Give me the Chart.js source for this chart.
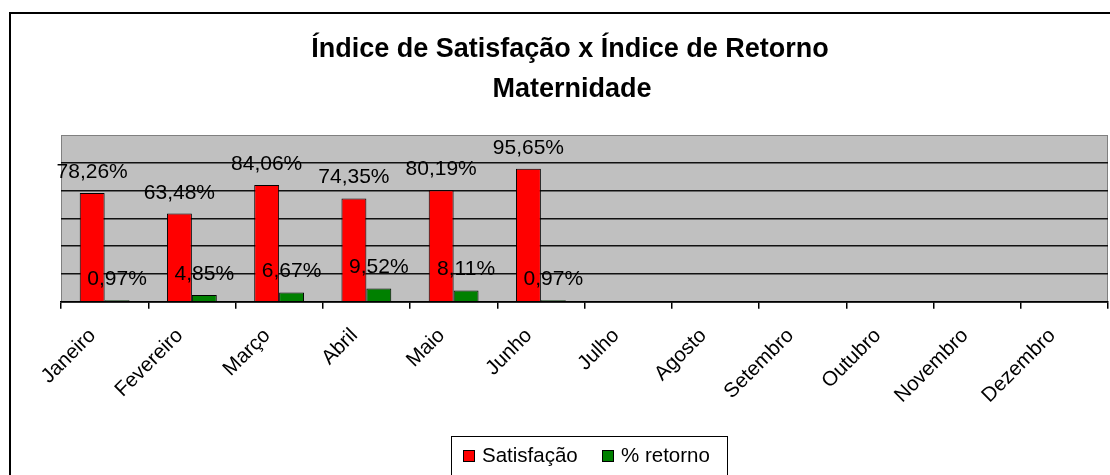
<!DOCTYPE html>
<html>
<head>
  <meta charset="UTF-8">
  <title>Índice de Satisfação x Índice de Retorno</title>
  <script src="https://cdn.jsdelivr.net/npm/chart.js"></script>
  <style>
    body { margin: 0; background: #fff; }
    canvas { display: block; }
  </style>
</head>
<body>
  <canvas id="grafico" width="1110" height="475"></canvas>

  <script>
    const meses = ['Janeiro', 'Fevereiro', 'Março', 'Abril', 'Maio', 'Junho',
                   'Julho', 'Agosto', 'Setembro', 'Outubro', 'Novembro', 'Dezembro'];
    const satisfacao = [78.26, 63.48, 84.06, 74.35, 80.19, 95.65, null, null, null, null, null, null];
    const retorno = [0.97, 4.85, 6.67, 9.52, 8.11, 0.97, null, null, null, null, null, null];
    const titulo = ['Índice de Satisfação x Índice de Retorno', 'Maternidade'];

    const fonte = 'Arial, "Liberation Sans", sans-serif';

    function formata(v) {
      return v.toFixed(2).replace('.', ',') + '%';
    }

    // moldura, fundo cinza, título, rótulos e legenda no estilo do Excel
    const estiloExcel = {
      id: 'estiloExcel',
      beforeDraw(chart) {
        const ctx = chart.ctx;
        const a = chart.chartArea;
        ctx.save();
        ctx.fillStyle = '#fff';
        ctx.fillRect(0, 0, chart.width, chart.height);
        ctx.strokeStyle = '#000';
        ctx.lineWidth = 2;
        ctx.strokeRect(10, 13, 1300, 600);

        ctx.fillStyle = '#c0c0c0';
        ctx.fillRect(a.left, a.top, a.right - a.left, a.bottom - a.top);
        ctx.strokeStyle = '#808080';
        ctx.lineWidth = 1;
        ctx.strokeRect(a.left + 0.5, a.top + 0.5, a.right - a.left - 1, a.bottom - a.top);

        ctx.fillStyle = '#000';
        ctx.font = 'bold 27px ' + fonte;
        ctx.textAlign = 'center';
        ctx.textBaseline = 'alphabetic';
        ctx.fillText(titulo[0], 570, 57);
        ctx.fillText(titulo[1], 572, 97);
        ctx.restore();
      },
      afterDatasetsDraw(chart) {
        const ctx = chart.ctx;
        ctx.save();
        ctx.font = '21px ' + fonte;
        ctx.fillStyle = '#000';
        ctx.textAlign = 'center';
        ctx.textBaseline = 'alphabetic';
        chart.data.datasets.forEach((ds, i) => {
          chart.getDatasetMeta(i).data.forEach((bar, j) => {
            const v = ds.data[j];
            if (v === null) return;
            ctx.fillText(formata(v), bar.x, bar.y - 15);
          });
        });

        // legenda
        ctx.font = '20.5px ' + fonte;
        ctx.strokeStyle = '#000';
        ctx.lineWidth = 1;
        ctx.strokeRect(451.5, 436.5, 276, 60);
        const xs = [463, 602];
        const y = 456;
        chart.data.datasets.forEach((ds, i) => {
          const x = xs[i];
          ctx.fillStyle = ds.backgroundColor;
          ctx.fillRect(x, y - 6, 12, 12);
          ctx.strokeRect(x + 0.5, y - 5.5, 11, 11);
          ctx.fillStyle = '#000';
          ctx.textAlign = 'left';
          ctx.textBaseline = 'alphabetic';
          ctx.fillText(ds.label, x + 19, y + 6);
        });
        ctx.restore();
      }
    };

    new Chart(document.getElementById('grafico'), {
      type: 'bar',
      data: {
        labels: meses,
        datasets: [
          {
            label: 'Satisfação',
            data: satisfacao,
            backgroundColor: '#ff0000',
            borderColor: '#000',
            borderWidth: 1,
            barPercentage: 1,
            categoryPercentage: 0.571
          },
          {
            label: '% retorno',
            data: retorno,
            backgroundColor: '#008000',
            borderColor: '#000',
            borderWidth: 1,
            barPercentage: 1,
            categoryPercentage: 0.571
          }
        ]
      },
      options: {
        responsive: false,
        animation: false,
        devicePixelRatio: 1,
        layout: { padding: { top: 135, left: 61, right: 2, bottom: 0 } },
        plugins: {
          legend: { display: false },
          title: { display: false },
          tooltip: { enabled: false }
        },
        scales: {
          x: {
            offset: true,
            grid: { offset: true, drawOnChartArea: false, drawTicks: true, tickLength: 7, color: '#000', lineWidth: 1.5 },
            border: { color: '#000', width: 1.5 },
            ticks: {
              minRotation: 45,
              maxRotation: 45,
              color: '#000',
              padding: 15,
              labelOffset: -12,
              font: { family: fonte, size: 20.5 }
            },
            afterFit(scale) { scale.height = 173.3; }
          },
          y: {
            min: 0,
            max: 120,
            ticks: { stepSize: 20, display: false },
            grid: {
              drawTicks: false,
              color: c => c.tick.value === 120 ? 'rgba(0,0,0,0)' : '#111',
              lineWidth: 1.6
            },
            border: { display: false }
          }
        }
      },
      plugins: [estiloExcel]
    });
  </script>
</body>
</html>
